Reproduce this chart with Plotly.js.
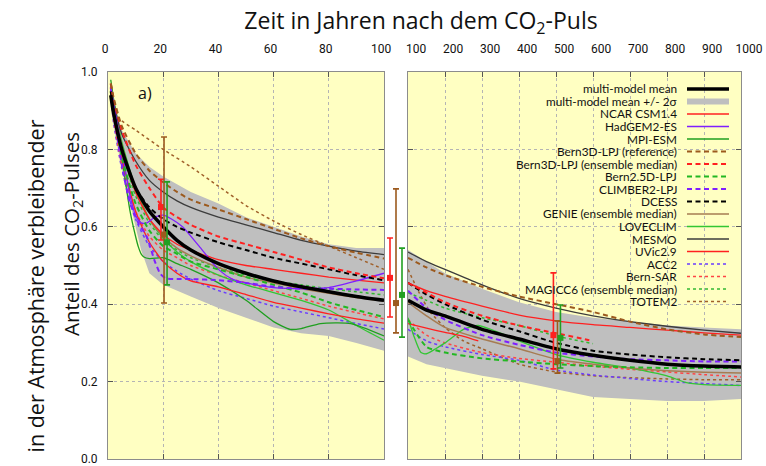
<!DOCTYPE html>
<html><head><meta charset="utf-8">
<script src="https://cdn.plot.ly/plotly-3.0.1.min.js"></script>
<style>html,body{margin:0;padding:0;background:#fff}#chart{width:766px;height:466px}</style>
</head><body><div id="chart"></div>
<script>
// ---------- DATA ----------
const xLeft = [1,2,5,10,15,20,25,30,40,50,60,70,80,90,100];
const xRight = [100,150,200,300,400,500,600,700,800,900,1000];

const meanLeft    = [0.94,0.895,0.80,0.70,0.64,0.60,0.565,0.54,0.505,0.48,0.46,0.445,0.432,0.42,0.41];
const meanRight   = [0.41,0.385,0.37,0.335,0.31,0.285,0.268,0.255,0.245,0.24,0.238];
const bandUpLeft  = [0.97,0.93,0.85,0.79,0.755,0.73,0.71,0.69,0.66,0.625,0.60,0.575,0.555,0.545,0.545];
const bandLoLeftX = [1,2,5,8,10,12,15,20,25,30,40,50,60,70,80,90,100];
const bandLoLeft  = [0.91,0.86,0.75,0.66,0.60,0.54,0.48,0.45,0.435,0.42,0.39,0.365,0.34,0.325,0.318,0.30,0.28];
const bandUpRight = [0.54,0.51,0.48,0.44,0.405,0.38,0.365,0.355,0.345,0.34,0.335];
const bandLoRight = [0.265,0.245,0.235,0.215,0.20,0.18,0.16,0.155,0.15,0.15,0.155];

const ncarLeft    = [0.96,0.90,0.78,0.64,0.56,0.51,0.48,0.46,0.445,0.425,0.405,0.39,0.375,0.362,0.351];
const ncarRightX  = [100,150,200,250,290];
const ncarRight   = [0.35,0.338,0.327,0.317,0.305];
const hadgemX     = [1,2,5,8,10,12,14,17,20,23,27,33,40,45,50,60,70,80,90,100];
const hadgem      = [0.96,0.92,0.80,0.68,0.63,0.61,0.61,0.625,0.63,0.62,0.60,0.55,0.49,0.465,0.455,0.443,0.44,0.443,0.46,0.48];
const mpiX        = [1,2,5,8,10,11,12,13,15,20,22,25,30,40,50,60,66,70,77,88,100];
const mpi         = [0.98,0.93,0.78,0.64,0.575,0.548,0.53,0.522,0.518,0.52,0.515,0.505,0.49,0.455,0.41,0.355,0.335,0.337,0.35,0.35,0.318];
const bern3dRefLeft  = [0.97,0.935,0.86,0.79,0.745,0.715,0.69,0.67,0.645,0.62,0.595,0.57,0.55,0.533,0.518];
const bern3dRefRight = [0.52,0.495,0.475,0.445,0.42,0.40,0.38,0.355,0.335,0.322,0.315];
const bern3dMedLeft  = [0.97,0.93,0.85,0.76,0.70,0.65,0.625,0.605,0.575,0.555,0.535,0.515,0.495,0.48,0.467];
const bern3dMedRightX= [100,150,200,300,400,500,590];
const bern3dMedRight = [0.455,0.43,0.405,0.37,0.345,0.325,0.307];
const bern25Left  = [0.95,0.90,0.78,0.66,0.59,0.55,0.53,0.51,0.49,0.47,0.45,0.43,0.405,0.385,0.367];
const bern25Right = [0.36,0.29,0.275,0.26,0.252,0.245,0.24,0.237,0.235,0.235,0.235];
const climberX    = [1,2,5,8,11,14,17,19,21,25,30,40,50,60,70,80,90,100];
const climberLeft = [0.96,0.90,0.76,0.66,0.61,0.575,0.51,0.478,0.467,0.465,0.465,0.462,0.455,0.445,0.44,0.44,0.438,0.437];
const climberRight= [0.435,0.39,0.36,0.32,0.295,0.275,0.265,0.258,0.255,0.252,0.252];
const dcessLeft   = [0.95,0.90,0.80,0.70,0.65,0.62,0.60,0.585,0.56,0.54,0.52,0.505,0.49,0.475,0.462];
const dcessRight  = [0.455,0.425,0.40,0.36,0.33,0.30,0.28,0.27,0.263,0.258,0.255];
const genieLeft   = [0.96,0.92,0.81,0.69,0.62,0.575,0.545,0.525,0.495,0.47,0.455,0.44,0.428,0.417,0.408];
const genieRight  = [0.405,0.37,0.34,0.31,0.285,0.258,0.245,0.235,0.228,0.224,0.222];
const loveclimLeft   = [0.97,0.93,0.82,0.70,0.62,0.57,0.535,0.51,0.475,0.45,0.43,0.41,0.385,0.345,0.307];
const loveclimRightX = [100,115,135,150,175,200,250,290,350,400,500,600,700,800,850,900,1000];
const loveclimRight  = [0.365,0.32,0.275,0.272,0.285,0.30,0.335,0.345,0.325,0.305,0.27,0.25,0.235,0.215,0.198,0.192,0.19];
const mesmoLeft   = [0.96,0.92,0.84,0.77,0.72,0.69,0.667,0.65,0.625,0.605,0.585,0.565,0.55,0.537,0.528];
const mesmoRight  = [0.535,0.51,0.49,0.45,0.415,0.39,0.37,0.355,0.343,0.333,0.325];
const uvicLeft    = [0.96,0.91,0.80,0.69,0.62,0.58,0.555,0.54,0.515,0.50,0.49,0.48,0.47,0.462,0.455];
const uvicRight   = [0.455,0.435,0.42,0.395,0.372,0.357,0.347,0.34,0.333,0.326,0.32];
const acc2Left    = [0.94,0.87,0.75,0.62,0.55,0.51,0.485,0.465,0.435,0.415,0.395,0.38,0.365,0.35,0.336];
const acc2Right   = [0.335,0.305,0.29,0.27,0.255,0.23,0.217,0.208,0.20,0.195,0.19];
const bernSarLeft = [0.94,0.88,0.76,0.64,0.575,0.54,0.52,0.50,0.475,0.455,0.435,0.415,0.395,0.378,0.362];
const bernSarRight= [0.36,0.32,0.30,0.275,0.26,0.25,0.24,0.232,0.225,0.218,0.212];
const magiccLeft  = [0.95,0.92,0.80,0.68,0.61,0.565,0.54,0.52,0.495,0.475,0.46,0.45,0.44,0.432,0.424];
const magiccRightX= [100,150,200,300,400,500,600];
const magiccRight = [0.43,0.41,0.39,0.365,0.345,0.318,0.298];
const totemLeftX  = [1,2,4,10,20,30,40,50,60,70,80,90,100];
const totemLeft   = [0.96,0.92,0.88,0.85,0.80,0.755,0.705,0.655,0.615,0.58,0.55,0.52,0.49];
const totemRightX = [100,130,160,200,250,300,400,500,600,700,800,900,1000];
const totemRight  = [0.49,0.43,0.38,0.34,0.305,0.285,0.245,0.225,0.215,0.21,0.207,0.205,0.205];

// error bars: [red (Bern3D-LPJ), brown (GENIE), green (MAGICC6)]
const errColors   = ['#ff2020','#9c5a1e','#22a022'];
const err20X      = [19.2,20.3,21.4];
const err20Mid    = [0.651,0.58,0.56];
const err20Hi     = [0.723,0.832,0.716];
const err20Lo     = [0.566,0.403,0.45];
const err100X     = [1,2,3];
const err100Mid   = [0.468,0.403,0.424];
const err100Hi    = [0.571,0.698,0.545];
const err100Lo    = [0.367,0.326,0.315];
const err500X     = [493,504,512];
const err500Mid   = [0.32,0.253,0.313];
const err500Hi    = [0.481,0.357,0.398];
const err500Lo    = [0.233,0.222,0.235];

const leftTicks   = [0,20,40,60,80,100];
const rightTicks  = [100,200,300,400,500,600,700,800,900,1000];
const yTicks      = [0,0.2,0.4,0.6,0.8,1.0];

const legendNames = ['multi-model mean','multi-model mean +/- 2σ','NCAR CSM1.4','HadGEM2-ES','MPI-ESM',
  'Bern3D-LPJ (reference)','Bern3D-LPJ (ensemble median)','Bern2.5D-LPJ','CLIMBER2-LPJ','DCESS',
  'GENIE (ensemble median)','LOVECLIM','MESMO','UVic2.9','ACC2','Bern-SAR','MAGICC6 (ensemble median)','TOTEM2'];

// ---------- STYLES ----------
const RED='#ff2020', PURPLE='#7f1fff', GREEN='#1f9f1f', BROWN='#9c5a1e', TAN='#a67c52',
      LGREEN='#33c633', GREY='#3c3c3c', DGREEN='#22b822', PDOT='#6a3cff', RDOT='#ff4444', GDOT='#33b833', BDOT='#a0602a';
const DASH='5px,3.5px';
const styles = [
  {c:'#000', d:'solid', w:3.5},
  {c:'#bfbfbf', d:'solid', w:6},
  {c:RED, d:'solid', w:1.3},
  {c:PURPLE, d:'solid', w:1.3},
  {c:GREEN, d:'solid', w:1.3},
  {c:BROWN, d:DASH, w:2},
  {c:RED, d:DASH, w:2},
  {c:DGREEN, d:DASH, w:2},
  {c:PURPLE, d:DASH, w:2},
  {c:'#000', d:DASH, w:2},
  {c:TAN, d:'solid', w:1.5},
  {c:LGREEN, d:'solid', w:1.3},
  {c:GREY, d:'solid', w:1.3},
  {c:RED, d:'solid', w:1.3},
  {c:PDOT, d:'dot', w:1.5},
  {c:RDOT, d:'dot', w:1.5},
  {c:GDOT, d:'dot', w:1.5},
  {c:BDOT, d:'dot', w:1.5}
];

function ln(x, y, st, xa, ya) {
  return {type:'scatter', mode:'lines', x:x, y:y, xaxis:xa, yaxis:ya, showlegend:false, hoverinfo:'skip',
    line:{color:st.c, dash:st.d, width:st.w, shape:'spline', smoothing:0.6}};
}
function band(xu, yu, xl, yl, xa, ya) {
  return {type:'scatter', mode:'lines', x:xu.concat(xl.slice().reverse()), y:yu.concat(yl.slice().reverse()),
    xaxis:xa, yaxis:ya, fill:'toself', fillcolor:'#bfbfbf', line:{width:0}, showlegend:false, hoverinfo:'skip'};
}
function errs(x, mid, hi, lo, xa, ya) {
  return x.map((xv,i)=>({type:'scatter', mode:'markers', x:[xv], y:[mid[i]], xaxis:xa, yaxis:ya, showlegend:false,
    hoverinfo:'skip', marker:{symbol:'square', size:6, color:errColors[i]},
    error_y:{type:'data', symmetric:false, array:[hi[i]-mid[i]], arrayminus:[mid[i]-lo[i]], color:errColors[i], thickness:1.6, width:3}}));
}

const L = ['x','y'], R = ['x2','y2'];
const traces = [
  band(xLeft, bandUpLeft, bandLoLeftX, bandLoLeft, ...L),
  band(xRight, bandUpRight, xRight, bandLoRight, ...R),
  // left panel models
  ln(totemLeftX, totemLeft, styles[17], ...L),
  ln(xLeft, acc2Left, styles[14], ...L),
  ln(xLeft, bernSarLeft, styles[15], ...L),
  ln(xLeft, magiccLeft, styles[16], ...L),
  ln(xLeft, loveclimLeft, styles[11], ...L),
  ln(mpiX, mpi, styles[4], ...L),
  ln(xLeft, genieLeft, styles[10], ...L),
  ln(xLeft, mesmoLeft, styles[12], ...L),
  ln(xLeft, uvicLeft, styles[13], ...L),
  ln(xLeft, ncarLeft, styles[2], ...L),
  ln(hadgemX, hadgem, styles[3], ...L),
  ln(xLeft, bern25Left, styles[7], ...L),
  ln(climberX, climberLeft, styles[8], ...L),
  ln(xLeft, dcessLeft, styles[9], ...L),
  ln(xLeft, bern3dMedLeft, styles[6], ...L),
  ln(xLeft, bern3dRefLeft, styles[5], ...L),
  ln(xLeft, meanLeft, styles[0], ...L),
  // right panel models
  ln(totemRightX, totemRight, styles[17], ...R),
  ln(xRight, acc2Right, styles[14], ...R),
  ln(xRight, bernSarRight, styles[15], ...R),
  ln(magiccRightX, magiccRight, styles[16], ...R),
  ln(loveclimRightX, loveclimRight, styles[11], ...R),
  ln(xRight, genieRight, styles[10], ...R),
  ln(xRight, mesmoRight, styles[12], ...R),
  ln(xRight, uvicRight, styles[13], ...R),
  ln(ncarRightX, ncarRight, styles[2], ...R),
  ln(xRight, bern25Right, styles[7], ...R),
  ln(xRight, climberRight, styles[8], ...R),
  ln(xRight, dcessRight, styles[9], ...R),
  ln(bern3dMedRightX, bern3dMedRight, styles[6], ...R),
  ln(xRight, bern3dRefRight, styles[5], ...R),
  ln(xRight, meanRight, styles[0], ...R),
  ...errs(err20X, err20Mid, err20Hi, err20Lo, ...L),
  ...errs(err100X, err100Mid, err100Hi, err100Lo, 'x3', 'y3'),
  ...errs(err500X, err500Mid, err500Hi, err500Lo, ...R)
];

// ---------- LAYOUT ----------
const W = 766, H = 466;
const px = v => v / W, py = v => (H - v) / H;
const yDom = [py(459), py(72)];
const FONT = 'Open Sans';
const common = {showline:true, linecolor:'#8c8c8c', linewidth:1, mirror:'allticks', ticks:'inside', ticklen:5,
  tickcolor:'#555', showgrid:true, gridcolor:'#b4b4b4', griddash:'dot', gridwidth:1, zeroline:false,
  tickfont:{family:'Roboto', size:12, color:'#111'}, automargin:false, fixedrange:true, ticklabeloverflow:'allow'};

const shapes = [
  {type:'rect', xref:'x domain', yref:'y domain', x0:0, x1:1, y0:0, y1:1, fillcolor:'#ffffc2', line:{width:0}, layer:'below'},
  {type:'rect', xref:'x2 domain', yref:'y2 domain', x0:0, x1:1, y0:0, y1:1, fillcolor:'#ffffc2', line:{width:0}, layer:'below'}
];
const annotations = [
  {xref:'x', yref:'y', x:13.4, y:0.946, text:'a)', showarrow:false, font:{family:FONT, size:16, color:'#111'}},
  {xref:'paper', yref:'paper', x:px(18), y:py(286), text:'in der Atmosphäre verbleibender', textangle:-90,
    showarrow:false, font:{family:FONT, size:21.5, color:'#111'}},
  {xref:'paper', yref:'paper', x:px(55), y:py(234), text:'Anteil des CO<sub>2</sub>-Pulses', textangle:-90,
    showarrow:false, font:{family:FONT, size:20.5, color:'#111'}}
];
// custom legend (text right-aligned, sample to the right)
legendNames.forEach((name, i) => {
  const yy = 89 + i * 12.5;
  annotations.push({xref:'paper', yref:'paper', x:px(679), y:py(yy), xanchor:'right', yanchor:'middle', text:name,
    showarrow:false, font:{family:'Lato', size:11.8, color:'#111'}});
  const st = styles[i];
  shapes.push({type:'line', xref:'paper', yref:'paper', x0:px(687), x1:px(729), y0:py(yy), y1:py(yy),
    line:{color:st.c, width:st.w, dash:st.d}, layer:'above'});
});

const layout = {
  width:W, height:H, margin:{l:0, r:0, t:0, b:0}, paper_bgcolor:'#fff', plot_bgcolor:'rgba(0,0,0,0)',
  showlegend:false,
  title:{text:'Zeit in Jahren nach dem CO<sub>2</sub>-Puls', xref:'paper', yref:'paper', x:px(421), y:py(21),
    xanchor:'center', yanchor:'middle', font:{family:FONT, size:23, color:'#111'}},
  xaxis:Object.assign({}, common, {domain:[px(108), px(384)], range:[0,100], side:'top', anchor:'y',
    tickvals:leftTicks, ticktext:leftTicks.map(String), ticklabelshift:-3, ticklabelstandoff:13}),
  yaxis:Object.assign({}, common, {domain:yDom, range:[0,1], anchor:'x', tickvals:yTicks,
    ticktext:yTicks.map(v=>v.toFixed(1)), ticklabelstandoff:7}),
  xaxis2:Object.assign({}, common, {domain:[px(408), px(741)], range:[100,1000], side:'top', anchor:'y2',
    tickvals:rightTicks, ticktext:rightTicks.map(String), ticklabelshift:8, ticklabelstandoff:13}),
  yaxis2:Object.assign({}, common, {domain:yDom, range:[0,1], anchor:'x2', tickvals:yTicks, showticklabels:false}),
  xaxis3:{domain:[px(384), px(408)], range:[0,4], visible:false, anchor:'y3', fixedrange:true},
  yaxis3:{domain:yDom, range:[0,1], visible:false, anchor:'x3', fixedrange:true},
  shapes:shapes, annotations:annotations
};

Plotly.newPlot('chart', traces, layout, {displayModeBar:false, staticPlot:true});
</script>
</body></html>
